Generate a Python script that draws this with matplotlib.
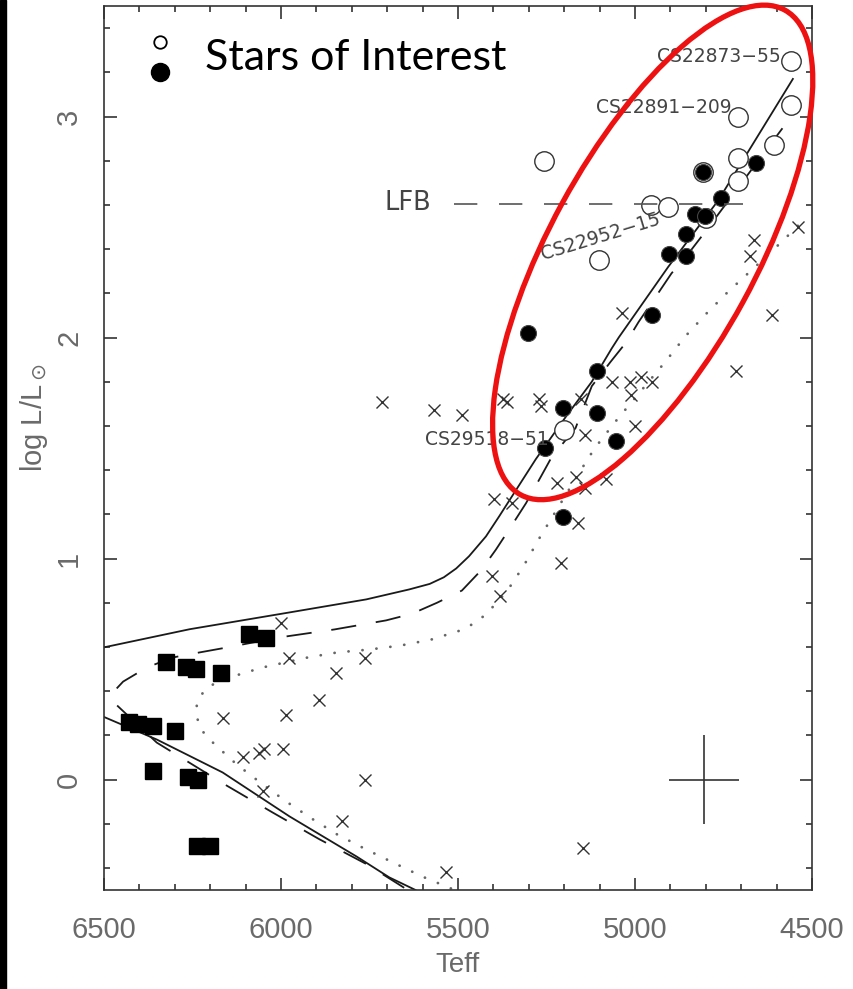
import matplotlib
matplotlib.use("Agg")
import matplotlib.pyplot as plt
from matplotlib.patches import Ellipse, Rectangle
from matplotlib.transforms import IdentityTransform
from matplotlib.ticker import MultipleLocator

# isochrones (Teff, log L/Lsun), read along each track
solid_T = [5620, 5694, 5787, 5976, 6165, 6351, 6503, 6560, 6503, 6258, 5976, 5759, 5638, 5580, 5540,
           5505, 5469, 5421, 5384, 5348, 5280, 5196, 5122, 5066, 5046, 4906, 4765, 4554]
solid_L = [-0.50, -0.443, -0.348, -0.167, 0.032, 0.181, 0.285, 0.44, 0.597, 0.68, 0.756, 0.815, 0.86, 0.885, 0.915,
           0.955, 1.01, 1.10, 1.19, 1.28, 1.45, 1.64, 1.80, 1.95, 2.0, 2.32, 2.62, 3.17]

dash_T = [5652, 5756, 5892, 6024, 6154, 6351, 6463, 6477, 6446, 6379, 6306, 6230, 6154, 6004, 5849,
          5703, 5630, 5559, 5489, 5435, 5393, 5348, 5308, 5266, 5235, 5168, 5122, 5069, 5024, 4990,
          4939, 4897, 4849, 4801, 4568, 4540]
dash_L = [-0.49, -0.385, -0.27, -0.149, -0.027, 0.167, 0.335, 0.39, 0.443, 0.507, 0.552, 0.575, 0.597, 0.643, 0.679,
          0.72, 0.75, 0.80, 0.855, 0.946, 1.04, 1.15, 1.25, 1.37, 1.46, 1.59, 1.78, 1.89, 1.98, 2.07,
          2.19, 2.29, 2.38, 2.48, 2.98, 3.04]

dot_T = [5520, 5601, 5683, 5759, 5841, 5914, 5985, 6055, 6125, 6190, 6221, 6238, 6238, 6215, 6179,
         6137, 6052, 5925, 5841, 5751, 5663, 5576, 5494, 5455, 5421, 5362, 5314, 5269, 5224, 5131,
         5108, 5055, 5027, 4914, 4858, 4801, 4739, 4706, 4644, 4576, 4539]
dot_L = [-0.493, -0.439, -0.376, -0.317, -0.249, -0.176, -0.100, -0.018, 0.068, 0.163, 0.217, 0.281, 0.348, 0.407, 0.443,
         0.466, 0.507, 0.552, 0.575, 0.588, 0.606, 0.633, 0.674, 0.706, 0.747, 0.851, 0.968, 1.095, 1.213, 1.457,
         1.511, 1.62, 1.674, 1.891, 2.005, 2.104, 2.204, 2.253, 2.344, 2.448, 2.507]

# field stars
cross_T = [6001, 5976, 5762, 5846, 5892, 6165, 5985, 6108, 6063, 6049, 5993, 5762, 6052, 5827, 5534,
           5148, 4714, 4612, 4663, 4674, 4539, 5038, 5066, 5013, 4982, 4953, 5010, 5153, 4999, 5142,
           5714, 5568, 5489, 5373, 5362, 5272, 5266, 5221, 5168, 5142, 5083, 5399, 5348, 5162, 5210,
           5404, 5382]
cross_L = [0.71, 0.55, 0.55, 0.48, 0.36, 0.28, 0.29, 0.10, 0.12, 0.14, 0.14, 0.00, -0.05, -0.19, -0.42,
           -0.31, 1.85, 2.10, 2.44, 2.37, 2.50, 2.11, 1.80, 1.80, 1.82, 1.80, 1.74, 1.72, 1.60, 1.56,
           1.71, 1.67, 1.65, 1.72, 1.71, 1.72, 1.69, 1.34, 1.37, 1.32, 1.36, 1.27, 1.25, 1.16, 0.98,
           0.92, 0.83]

# turnoff / subgiant squares
square_T = [6091, 6041, 6325, 6269, 6241, 6170, 6430, 6404, 6362, 6300, 6362, 6263, 6235, 6238, 6201]
square_L = [0.66, 0.64, 0.53, 0.51, 0.50, 0.48, 0.26, 0.25, 0.24, 0.22, 0.04, 0.01, 0.00, -0.30, -0.30]

# giants
filled_T = [4658, 4807, 4756, 4830, 4802, 4855, 4903, 4855, 4953, 5303, 5106, 5204, 5106, 5055, 5255, 5204]
filled_L = [2.79, 2.75, 2.63, 2.56, 2.55, 2.47, 2.38, 2.37, 2.10, 2.02, 1.85, 1.68, 1.66, 1.53, 1.50, 1.19]

open_T = [4559, 4708, 4559, 5258, 4708, 4607, 4708, 4956, 4906, 4807, 4800, 5103, 5201]
open_L = [3.25, 3.00, 3.05, 2.80, 2.81, 2.87, 2.71, 2.60, 2.59, 2.75, 2.54, 2.35, 1.58]

# named stars
names = ["CS22873\u221255", "CS22891\u2212209", "CS22952\u221215", "CS29518\u221251"]
name_T = [4559, 4708, 5103, 5201]
name_L = [3.25, 3.00, 2.35, 1.58]

lfb_T = [5511, 4694]
lfb_L = 2.606

fig = plt.figure(figsize=(8.54, 9.89), dpi=100)
ax = fig.add_axes([104 / 854, 99 / 989, 708 / 854, 884 / 989])
fig.patches.append(Rectangle((0, 0), 6 / 854, 1, transform=fig.transFigure, color="black"))

ax.plot(solid_T, solid_L, "-", color="#1a1a1a", lw=1.3)
ax.plot(dash_T, dash_L, color="#1a1a1a", lw=1.3, linestyle=(0, (14, 11)))
ax.plot(dot_T, dot_L, color="#666666", lw=2.0, linestyle=(0, (0.05, 5)), dash_capstyle="round")

ax.plot(cross_T, cross_L, "x", color="#333333", ms=8, mew=1.0, ls="none")
ax.plot(square_T, square_L, "s", color="black", ms=12, ls="none")
ax.plot(open_T, open_L, "o", mfc="white", mec="#333333", mew=1.0, ms=14, ls="none")
ax.plot(filled_T, filled_L, "o", color="black", mec="#444444", mew=0.8, ms=11.5, ls="none")

ax.plot(lfb_T, [lfb_L, lfb_L], color="#555555", lw=1.2, linestyle=(0, (14, 13)))
ax.text(5576, 2.61, "LFB", ha="right", va="center", fontsize=18.5, color="#444444")

offsets = [(-7.2, 3.6), (-5, 6.5), (1.5, 17), (-10.8, -6.5)]
rotations = [0, 0, 17, 0]
for n, t, l, off, rot in zip(names, name_T, name_L, offsets, rotations):
    ax.annotate(n, xy=(t, l), xytext=off, textcoords="offset points",
                ha="center" if rot else "right", va="center", rotation=rot,
                fontsize=13.5, color="#444444")

# typical error bar
ax.errorbar([4805], [0.0], xerr=[100], yerr=[0.2], fmt="none", ecolor="#333333", elinewidth=1.2, capsize=0)

ax.set_xlim(6500, 4500)
ax.set_ylim(-0.5, 3.5)
ax.xaxis.set_major_locator(MultipleLocator(500))
ax.xaxis.set_minor_locator(MultipleLocator(100))
ax.yaxis.set_major_locator(MultipleLocator(1))
ax.yaxis.set_minor_locator(MultipleLocator(0.2))
ax.tick_params(which="both", direction="in", top=True, right=True, color="#333333", width=1.2)
ax.tick_params(which="major", length=9)
ax.tick_params(which="minor", length=4.5)
ax.tick_params(axis="x", pad=19)
ax.tick_params(axis="y", pad=15)
tick_font = "Liberation Sans"
for lab in ax.get_xticklabels() + ax.get_yticklabels():
    lab.set_family(tick_font)
    lab.set_fontsize(21)
    lab.set_color("#6a6a6a")
for lab in ax.get_yticklabels():
    lab.set_rotation(90)
    lab.set_va("center")
for s in ax.spines.values():
    s.set_color("#333333")
    s.set_linewidth(1.2)

ax.set_xlabel("Teff", fontsize=20, color="#6a6a6a", family=tick_font)
ax.set_ylabel(r"log L/L$_\odot$", fontsize=21, color="#6a6a6a", family=tick_font)
ax.xaxis.set_label_coords(0.5, -0.07)
ax.yaxis.set_label_coords(-0.076, 0.534)

# legend for the giants
ax.plot([0.079], [0.959], "o", mfc="white", mec="black", mew=1.3, ms=9, transform=ax.transAxes, clip_on=False)
ax.plot([0.079], [0.925], "o", color="black", ms=13, transform=ax.transAxes, clip_on=False)
ax.text(0.143, 0.941, "Stars of Interest", transform=ax.transAxes, fontsize=31, family="Lato", va="center")

# highlight ring around the giant branch
cx, cy = ax.transData.transform((4950, 2.385))
ring = Ellipse((cx, cy), 552, 206, angle=61.4, transform=IdentityTransform(),
               fill=False, edgecolor="#ee1111", lw=3.8, clip_on=False)
fig.patches.append(ring)

fig.savefig("out.png", dpi=100)
